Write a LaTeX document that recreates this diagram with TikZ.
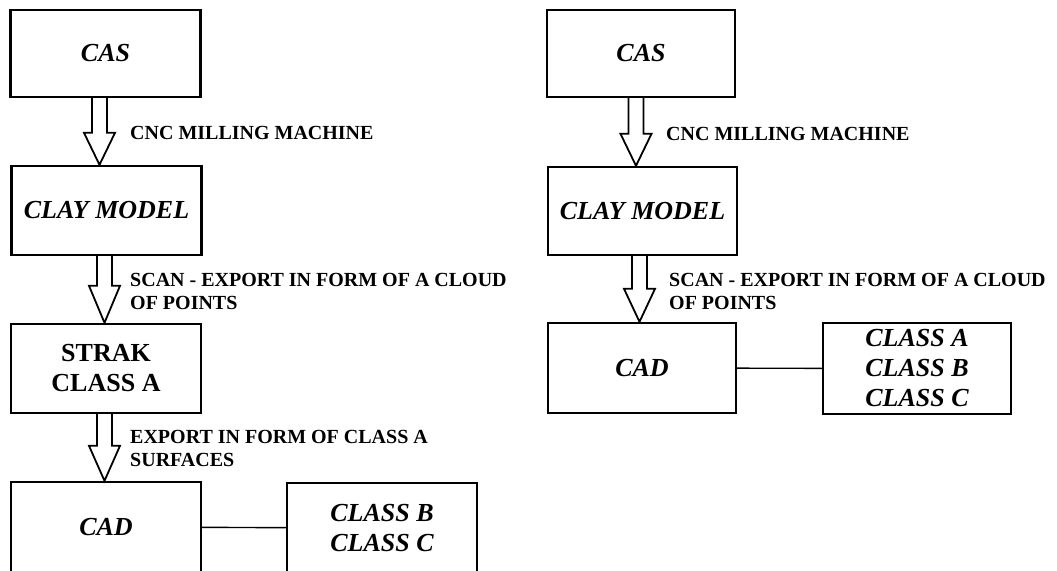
\documentclass[tikz,border=0pt]{standalone}
\usepackage{fontspec}
\setmainfont{Liberation Serif}
\usetikzlibrary{calc}
\tikzset{
  box/.style={draw, line width=2.4pt, minimum width=#1, inner sep=0pt, align=center,
    font=\fontsize{26}{30}\selectfont\bfseries\itshape},
  box/.default={190pt},
  upbox/.style={box, font=\fontsize{26}{30}\selectfont\bfseries},
  lbl/.style={anchor=west, align=left, inner sep=0pt, font=\fontsize{20}{23}\selectfont\bfseries},
  blockarrow/.style={draw, line width=1.8pt, line join=miter, fill=white},
  link/.style={draw, line width=1.4pt}
}
% #1 from node, #2 to node, #3 x offset (pt), #4 head length (pt)
\newcommand\hollowarrow[4]{%
  \draw[blockarrow] let \p1=(#1.south), \p2=(#2.north) in
    ({\x1+(#3pt)-7.5pt},\y1) -- ({\x1+(#3pt)-7.5pt},{\y2+#4pt}) --
    ({\x1+(#3pt)-15.5pt},{\y2+#4pt}) -- ({\x1+(#3pt)},\y2) --
    ({\x1+(#3pt)+15.5pt},{\y2+#4pt}) -- ({\x1+(#3pt)+7.5pt},{\y2+#4pt}) --
    ({\x1+(#3pt)+7.5pt},\y1);}
\begin{document}
\begin{tikzpicture}[x=1pt,y=-1pt]
\useasboundingbox[fill=white] (0,0) rectangle (1057,570);
% left column
\node[box, minimum height=87pt] (lcas) at (105.5,53.5) {CAS};
\node[box, minimum height=89pt] (lclay) at (106.5,210.5) {CLAY MODEL};
\node[upbox, minimum height=89pt] (lstrak) at (106,368.5) {STRAK\\CLASS A};
\node[box, minimum height=90pt] (lcad) at (106,527) {CAD};
\node[box, minimum height=90pt, align=left] (lcls) at (382,528) {CLASS B\\CLASS C};
\hollowarrow{lcas}{lclay}{-6}{32}
\hollowarrow{lclay}{lstrak}{-2}{37}
\hollowarrow{lstrak}{lcad}{-1.5}{35}
\draw[link] (lcad) -- (lcls);
\node[lbl] (ll1) at (130,133) {CNC MILLING MACHINE};
\node[lbl] (ll2) at (130,291.5) {SCAN - EXPORT IN FORM OF A CLOUD\\OF POINTS};
\node[lbl] (ll3) at (130,448.5) {EXPORT IN FORM OF CLASS A\\SURFACES};
% right column
\node[box=188pt, minimum height=87pt] (rcas) at (641,53.5) {CAS};
\node[box=189pt, minimum height=88pt] (rclay) at (642.5,211) {CLAY MODEL};
\node[box=188pt, minimum height=90pt] (rcad) at (642,368) {CAD};
\node[box=188pt, minimum height=91pt, align=left] (rcls) at (917,368.5) {CLASS A\\CLASS B\\CLASS C};
\hollowarrow{rcas}{rclay}{-5}{32}
\hollowarrow{rclay}{rcad}{-3}{33}
\draw[link] (rcad) -- (rcls);
\node[lbl] (rl1) at (666,134) {CNC MILLING MACHINE};
\node[lbl] (rl2) at (669,291) {SCAN - EXPORT IN FORM OF A CLOUD\\OF POINTS};
\end{tikzpicture}
\end{document}
